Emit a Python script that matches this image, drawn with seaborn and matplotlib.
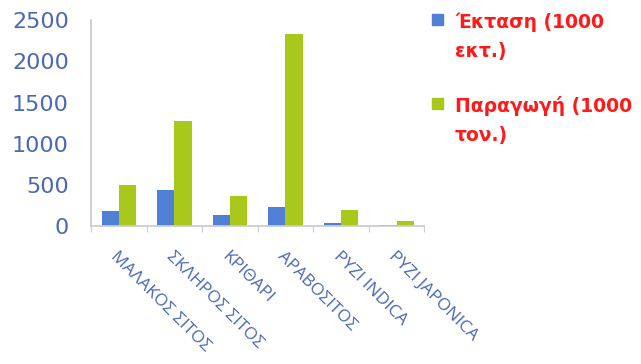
import matplotlib
matplotlib.use("Agg")
import matplotlib.pyplot as plt
from matplotlib.patches import Rectangle
import numpy as np
import pandas as pd
import seaborn as sns

crops = ["ΜΑΛΑΚΟΣ ΣΙΤΟΣ", "ΣΚΛΗΡΟΣ ΣΙΤΟΣ", "ΚΡΙΘΑΡΙ", "ΑΡΑΒΟΣΙΤΟΣ",
         "ΡΥΖΙ INDICA", "ΡΥΖΙ JAPONICA"]
area = [190, 440, 140, 230, 40, 20]
production = [500, 1280, 370, 2330, 200, 60]
series = ["Έκταση (1000\nεκτ.)", "Παραγωγή (1000\nτον.)"]

df = pd.DataFrame({
    "crop": crops * 2,
    "value": area + production,
    "series": [series[0]] * len(crops) + [series[1]] * len(crops),
})

sns.set_theme(style="white")
plt.rcParams["font.family"] = ["DejaVu Sans"]

BLUE = "#4f80d6"
GREEN = "#a8c81c"
LABEL_BLUE = "#4a68b8"

fig = plt.figure(figsize=(6.41, 3.64), dpi=100)
ax = fig.add_axes([0.142, 0.378, 0.52, 0.567])

sns.barplot(data=df, x="crop", y="value", hue="series",
            palette=[BLUE, GREEN], saturation=1, width=0.62, ax=ax,
            legend=False, edgecolor="none")

ax.set_ylim(0, 2500)
ax.set_xlim(-0.5, len(crops) - 0.5)
ax.set_yticks([0, 500, 1000, 1500, 2000, 2500])
ax.set_xticks(np.arange(-0.5, len(crops), 1.0), minor=True)
ax.set_xlabel("")
ax.set_ylabel("")
ax.tick_params(axis="y", colors=LABEL_BLUE, labelsize=16, length=0, pad=16)
ax.tick_params(axis="x", which="major", colors=LABEL_BLUE, length=0, pad=16)
ax.tick_params(axis="x", which="minor", bottom=True, length=4,
               color="#cccccc", width=0.8)
for lab in ax.get_xticklabels():
    lab.set_rotation(-45)
    lab.set_ha("left")
    lab.set_va("top")
    lab.set_rotation_mode("anchor")
    lab.set_fontfamily("Open Sans")
    lab.set_fontsize(12.5)

for s in ["top", "right"]:
    ax.spines[s].set_visible(False)
ax.spines["left"].set_color("#cccccc")
ax.spines["bottom"].set_color("#cccccc")

# legend drawn by hand: square next to first line of each wrapped label
W, H = 641, 364
for lbl, col, top in zip(series, [BLUE, GREEN], [12, 96]):
    fig.patches.append(Rectangle((432 / W, 1 - (top + 13) / H), 11 / W, 11 / H,
                                 transform=fig.transFigure, color=col))
    fig.text(455 / W, 1 - top / H, lbl, color="#ff1a1a", fontsize=13.5,
             fontweight="bold", va="top", ha="left", linespacing=1.7)

fig.savefig("out.png", dpi=100)
